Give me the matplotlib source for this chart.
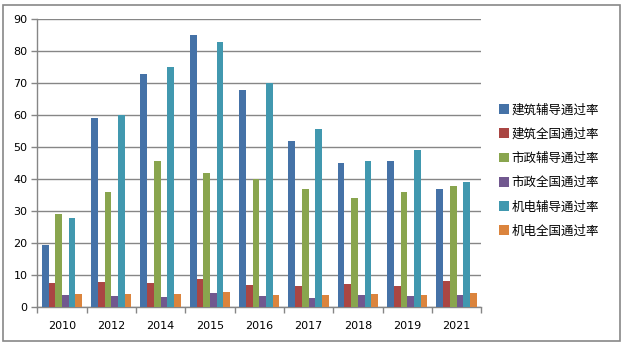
import numpy as np
import matplotlib.pyplot as plt
from matplotlib.patches import Rectangle

plt.rcParams['font.family'] = ['Noto Sans CJK SC', 'DejaVu Sans']

years = ['2010', '2012', '2014', '2015', '2016', '2017', '2018', '2019', '2021']
series_names = ['建筑辅导通过率', '建筑全国通过率', '市政辅导通过率',
                '市政全国通过率', '机电辅导通过率', '机电全国通过率']

jz_fd = [19.5, 59, 73, 85, 68, 52, 45, 45.7, 37]
jz_qg = [7.6, 7.9, 7.6, 8.9, 7.0, 6.7, 7.3, 6.7, 8.2]
sz_fd = [29, 36, 45.7, 42, 40, 37, 34, 36, 38]
sz_qg = [3.9, 3.5, 3.2, 4.5, 3.5, 2.9, 3.9, 3.5, 3.9]
jd_fd = [28, 60, 75, 83, 70, 55.7, 45.7, 49, 39]
jd_qg = [4.2, 4.2, 4.2, 4.8, 3.9, 3.9, 4.2, 3.9, 4.5]

series = [jz_fd, jz_qg, sz_fd, sz_qg, jd_fd, jd_qg]
colors = ['#4572A7', '#AA4643', '#89A54E', '#71588F', '#4198AF', '#DB843D']

fig = plt.figure(figsize=(6.27, 3.49), dpi=100)
ax = fig.add_axes([0.0595, 0.1195, 0.708, 0.8252])

# outer chart frame
fig.patches.append(Rectangle((3.3 / 627, 1 - 341 / 349), (620 - 3.3) / 627,
                             (341 - 5) / 349, transform=fig.transFigure,
                             fill=False, edgecolor='#888888', lw=1.2))

x = np.arange(len(years))
w = 0.136
for i, (vals, c) in enumerate(zip(series, colors)):
    ax.bar(x + (i - 2.5) * w, vals, width=w, color=c, label=series_names[i],
           zorder=3)

ax.set_xlim(-0.5, len(years) - 0.5)
ax.set_ylim(0, 90)
ax.set_yticks(range(0, 91, 10))
ax.yaxis.grid(True, color='#868686', lw=1.0, zorder=0)

ax.set_xticks(np.arange(-0.5, len(years), 1))
ax.set_xticklabels([])
ax.set_xticks(x, minor=True)
ax.set_xticklabels(years, minor=True)
ax.tick_params(axis='x', which='major', length=4, color='#868686', width=1)
ax.tick_params(axis='x', which='minor', length=0, pad=10, labelsize=8)
ax.tick_params(axis='y', length=4, color='#868686', width=1, labelsize=8, pad=3)
for lab in ax.get_xticklabels(minor=True) + ax.get_yticklabels():
    lab.set_family('DejaVu Sans')

for s in ['top', 'right']:
    ax.spines[s].set_visible(False)
for s in ['left', 'bottom']:
    ax.spines[s].set_color('#868686')
    ax.spines[s].set_linewidth(1)

ax.legend(loc='center left', bbox_to_anchor=(1.015, 0.475), frameon=False,
          fontsize=9, handlelength=0.8, handleheight=0.8, handletextpad=0.2,
          labelspacing=0.9)

plt.savefig('out.png', dpi=100)
